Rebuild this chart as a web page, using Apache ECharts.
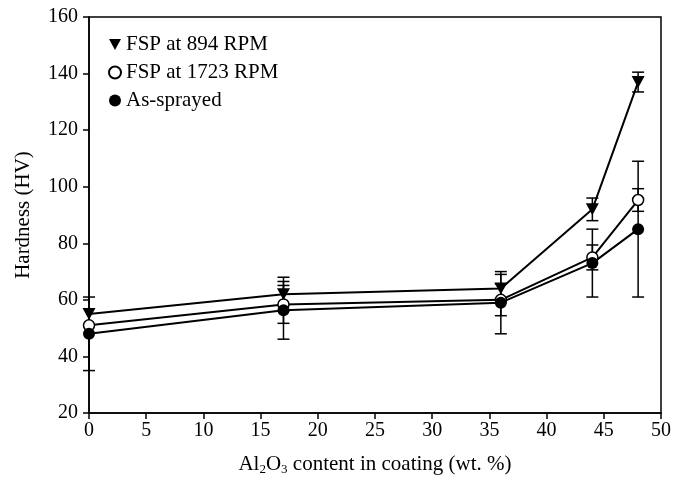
<!DOCTYPE html>
<html><head><meta charset="utf-8">
<script src="https://cdn.jsdelivr.net/npm/echarts@6/dist/echarts.min.js"></script>
<style>html,body{margin:0;padding:0;background:#fff}#c{width:686px;height:481px}</style>
</head><body><div id="c"></div>
<script>
const xValues = [0, 17, 36, 44, 48];
const fsp894 = [55, 62, 64, 92, 137];
const fsp894Err = [0, 6, 5, 4, 3.5];
const fsp1723 = [51, 58.4, 60, 75, 95.3];
const fsp1723Err = [0, 6.7, 5.6, 4.4, 4];
const asSprayed = [48, 56.3, 59, 73, 85];
const asSprayedErr = [13, 10.2, 11, 12, 24];
const seriesNames = ['FSP at 894 RPM', 'FSP at 1723 RPM', 'As-sprayed'];

const FONT = 'Liberation Serif';
const triDown = 'path://M0,0 L12,0 L6,11 Z';

function pts(vals){ return xValues.map((x,i)=>[x, vals[i]]); }
function errData(vals, errs){ return xValues.map((x,i)=>[x, vals[i], errs[i]]); }

function errSeries(vals, errs){
  return {
    type: 'custom',
    silent: true,
    z: 1,
    data: errData(vals, errs),
    renderItem: function(params, api){
      const x = api.value(0), y = api.value(1), e = api.value(2);
      if (!(e > 0)) return {type: 'group', children: []};
      const hi = api.coord([x, y + e]);
      const lo = api.coord([x, y - e]);
      const w = 6;
      const st = {stroke: '#000', lineWidth: 1.5};
      return {type: 'group', children: [
        {type: 'line', shape: {x1: hi[0], y1: hi[1], x2: lo[0], y2: lo[1]}, style: st},
        {type: 'line', shape: {x1: hi[0]-w, y1: hi[1], x2: hi[0]+w, y2: hi[1]}, style: st},
        {type: 'line', shape: {x1: lo[0]-w, y1: lo[1], x2: lo[0]+w, y2: lo[1]}, style: st}
      ]};
    }
  };
}

const chart = echarts.init(document.getElementById('c'), null, {renderer: 'canvas'});
chart.setOption({
  animation: false,
  backgroundColor: '#fff',
  textStyle: {fontFamily: FONT, color: '#000'},
  grid: {left: 89, right: 25, top: 17, bottom: 65, show: true, borderColor: '#000', borderWidth: 1.5},
  legend: {
    orient: 'vertical', left: 103, top: 29, itemWidth: 12, itemHeight: 12, itemGap: 7,
    textStyle: {fontFamily: FONT, fontSize: 21, color: '#000'},
    data: [
      {name: seriesNames[0], icon: triDown},
      {name: seriesNames[1], icon: 'circle'},
      {name: seriesNames[2], icon: 'circle'}
    ]
  },
  xAxis: {
    type: 'value', min: 0, max: 50, interval: 5,
    axisLine: {show: true, lineStyle: {color: '#000', width: 1.5}},
    axisTick: {show: true, inside: false, length: 6, lineStyle: {color: '#000', width: 1.5}},
    splitLine: {show: false},
    axisLabel: {fontFamily: FONT, fontSize: 20, color: '#000', margin: 8},
    name: '{n|Al}{s|2}{n|O}{s|3}{n| content in coating (wt. %)}',
    nameLocation: 'middle', nameGap: 40,
    nameTextStyle: {
      fontFamily: FONT, fontSize: 21, color: '#000',
      rich: {
        n: {fontFamily: FONT, fontSize: 21, color: '#000'},
        s: {fontFamily: FONT, fontSize: 13, color: '#000', verticalAlign: 'bottom', padding: [10,0,0,0]}
      }
    }
  },
  yAxis: {
    type: 'value', min: 20, max: 160, interval: 20,
    axisLine: {show: true, lineStyle: {color: '#000', width: 1.5}},
    axisTick: {show: true, inside: false, length: 6, lineStyle: {color: '#000', width: 1.5}},
    splitLine: {show: false},
    axisLabel: {fontFamily: FONT, fontSize: 20, color: '#000', margin: 11},
    name: 'Hardness (HV)', nameLocation: 'middle', nameGap: 55,
    nameTextStyle: {fontFamily: FONT, fontSize: 21, color: '#000'}
  },
  series: [
    errSeries(fsp894, fsp894Err),
    errSeries(fsp1723, fsp1723Err),
    errSeries(asSprayed, asSprayedErr),
    {
      name: seriesNames[0], type: 'line', data: pts(fsp894), z: 3,
      symbol: triDown, symbolSize: [13, 12],
      lineStyle: {color: '#000', width: 2},
      itemStyle: {color: '#000', borderColor: '#000', borderWidth: 0}
    },
    {
      name: seriesNames[1], type: 'line', data: pts(fsp1723), z: 3,
      symbol: 'circle', symbolSize: 11,
      lineStyle: {color: '#000', width: 2},
      itemStyle: {color: '#fff', borderColor: '#000', borderWidth: 1.5}
    },
    {
      name: seriesNames[2], type: 'line', data: pts(asSprayed), z: 3,
      symbol: 'circle', symbolSize: 12,
      lineStyle: {color: '#000', width: 2},
      itemStyle: {color: '#000', borderColor: '#000', borderWidth: 0}
    }
  ]
});
</script></body></html>
